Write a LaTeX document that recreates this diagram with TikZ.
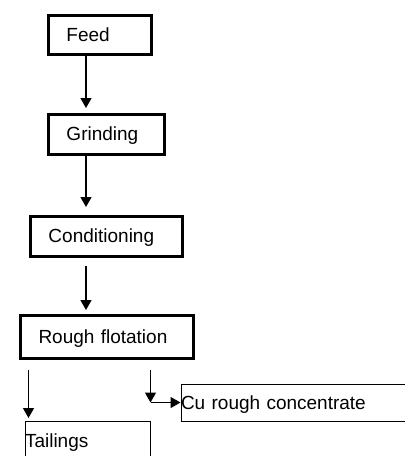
\documentclass[tikz,border=0pt]{standalone}
\usepackage{fontspec}
\setmainfont{Liberation Sans}
\usetikzlibrary{arrows.meta}

\begin{document}
\begin{tikzpicture}[x=1pt,y=-1pt,
    stage/.style={draw, line width=3pt, anchor=north west, align=left,
      inner xsep=18.5pt, inner ysep=0pt, text height=13.5pt, text depth=0pt,
      font=\fontsize{19}{22}\selectfont},
    product/.style={draw, line width=1pt, anchor=north west, align=left,
      inner xsep=0pt, inner ysep=0pt, text height=13.5pt, text depth=0pt,
      font=\fontsize{19}{22}\selectfont},
    flow/.style={-{Triangle[width=11pt,length=10pt]}, line width=1.3pt}]
    \clip (0,0) rectangle (405,456);
    % process stages
    \node[stage, text width=66pt, minimum height=39pt] (feed) at (46.5,13.5) {Feed};
    \node[stage, text width=79pt, minimum height=40pt] (grind) at (46.5,112.5) {Grinding};
    \node[stage, text width=115pt, minimum height=40pt] (cond) at (28.5,214.5) {Conditioning};
    \node[stage, text width=136pt, minimum height=43pt] (rough) at (18.5,313.5) {Rough flotation};
    % products
    \node[product, text width=125pt, minimum height=40pt] (tail) at (24.5,420.5) {Tailings};
    \node[product, text width=240pt, minimum height=37pt] (cu) at (180.5,383.5) {Cu rough concentrate};
    % free ends below rough flotation
    \coordinate (tailTop) at ([xshift=10pt,yshift=-10.5pt]rough.south west);
    \coordinate (cuTop) at ([xshift=132pt,yshift=-10.5pt]rough.south west);
    \coordinate (cuBend) at (cuTop |- cu.west);
    % flow arrows
    \draw[flow, shorten >=4.5pt] ([xshift=39.5pt]feed.south west) -- ([xshift=39.5pt]feed.south west |- grind.north);
    \draw[flow, shorten >=7.5pt] ([xshift=39.5pt]grind.south west) -- ([xshift=39.5pt]grind.south west |- cond.north);
    \draw[flow, shorten <=8.5pt, shorten >=3.5pt] ([xshift=57.5pt]cond.south west) -- ([xshift=57.5pt]cond.south west |- rough.north);
    \draw[flow, shorten >=2.5pt] (tailTop) -- (tailTop |- tail.north);
    \draw[flow] (cuTop) -- (cuBend);
    \draw[flow] (cuBend) -- (cu.west);
\end{tikzpicture}
\end{document}
